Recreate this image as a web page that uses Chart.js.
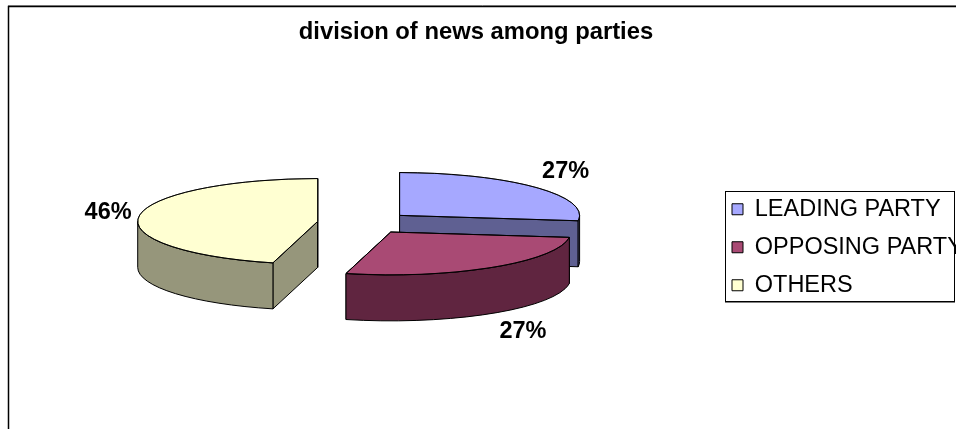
<!DOCTYPE html>
<html>
<head>
<meta charset="utf-8">
<title>division of news among parties</title>
<script src="https://cdn.jsdelivr.net/npm/chart.js@4/dist/chart.umd.js"></script>
<style>
  html, body { margin: 0; padding: 0; background: #fff; overflow: hidden; }
  #wrap { position: absolute; left: 0; top: 0; width: 956px; height: 429px; }
</style>
</head>
<body>
<div id="wrap"><canvas id="chart" width="956" height="429"></canvas></div>
<script>
const chartTitle = 'division of news among parties';
const categories = ['LEADING PARTY', 'OPPOSING PARTY', 'OTHERS'];
const shares = [27, 27, 46];
const topColors = ['#a6a8ff', '#a94a74', '#ffffd2'];
const sideColors = ['#5f6092', '#602540', '#96967b'];

const FONT = '"Liberation Sans", Arial, sans-serif';
const TILT = 0.238;      // vertical squash of the pie disc
const DEPTH = 46;        // height of the extruded wall
const EXPLODE = 47;      // how far each slice is pulled from the centre

// Screen position of an angle on a slice's rim, relative to the exploded centre.
function sliceGeometry(arc) {
  const mid = (arc.startAngle + arc.endAngle) / 2;
  const cx = arc.x + EXPLODE * Math.cos(mid);
  const cy = arc.y + EXPLODE * Math.sin(mid) * TILT;
  const rim = a => ({
    x: cx + arc.outerRadius * Math.cos(a),
    y: cy + arc.outerRadius * Math.sin(a) * TILT
  });
  return { mid, cx, cy, rim };
}

// Pie controller that draws each slice as a tilted, extruded, exploded wedge.
class ExplodedPie3D extends Chart.DoughnutController {
  draw() {
    const ctx = this.chart.ctx;
    this.getMeta().data.forEach((arc, i) => {
      const { cx, cy, rim } = sliceGeometry(arc);
      const r = arc.outerRadius;
      const a0 = arc.startAngle, a1 = arc.endAngle;
      ctx.save();
      ctx.lineWidth = 1;
      ctx.lineJoin = 'round';
      ctx.strokeStyle = '#000';
      ctx.fillStyle = sideColors[i];

      // Radial cut faces
      [a0, a1].forEach(a => {
        const p = rim(a);
        ctx.beginPath();
        ctx.moveTo(cx, cy);
        ctx.lineTo(p.x, p.y);
        ctx.lineTo(p.x, p.y + DEPTH);
        ctx.lineTo(cx, cy + DEPTH);
        ctx.closePath();
        ctx.fill();
        ctx.stroke();
      });

      // Outer wall: only the part of the rim facing the viewer
      for (let k = -1; k <= 1; k++) {
        const from = Math.max(a0, 2 * Math.PI * k);
        const to = Math.min(a1, Math.PI + 2 * Math.PI * k);
        if (to <= from) continue;
        ctx.beginPath();
        ctx.ellipse(cx, cy, r, r * TILT, 0, from, to);
        ctx.ellipse(cx, cy + DEPTH, r, r * TILT, 0, to, from, true);
        ctx.closePath();
        ctx.fill();
        ctx.stroke();
      }

      // Top face, squashed through the context transform
      ctx.save();
      ctx.translate(cx - arc.x, cy - arc.y * TILT);
      ctx.scale(1, TILT);
      arc.draw(ctx);
      ctx.restore();

      // Even-width outline of the top face
      ctx.beginPath();
      ctx.moveTo(cx, cy);
      ctx.ellipse(cx, cy, r, r * TILT, 0, a0, a1);
      ctx.closePath();
      ctx.stroke();
      ctx.restore();
    });
  }
}
ExplodedPie3D.id = 'explodedPie3D';
Chart.register(ExplodedPie3D);

const pieDecor = {
  id: 'pieDecor',
  // Place the title and the legend; the legend panel clips overlong entries.
  afterLayout(chart) {
    const tb = chart.titleBlock;
    tb.left = 0; tb.right = 952;
    const lg = chart.legend;
    lg.left = 717.5; lg.top = 183;
    lg.right = 956; lg.bottom = 340;
  },
  beforeDraw(chart) {
    const ctx = chart.ctx;
    ctx.save();
    // Outer chart frame, open at the bottom and right
    ctx.lineWidth = 1;
    ctx.strokeStyle = '#9a9a9a';
    ctx.beginPath();
    ctx.moveTo(8, 5.5);
    ctx.lineTo(960, 5.5);
    ctx.stroke();
    ctx.strokeStyle = '#000';
    ctx.lineWidth = 1.5;
    ctx.beginPath();
    ctx.moveTo(8.5, 440);
    ctx.lineTo(8.5, 6.5);
    ctx.lineTo(960, 6.5);
    ctx.stroke();
    // Legend panel
    ctx.lineWidth = 1;
    ctx.strokeRect(725.5, 191.5, 229, 110);
    ctx.strokeStyle = '#808080';
    ctx.beginPath();
    ctx.moveTo(725, 302.5);
    ctx.lineTo(955, 302.5);
    ctx.stroke();
    ctx.restore();
  },
  afterDatasetsDraw(chart) {
    const ctx = chart.ctx;
    const total = shares.reduce((s, v) => s + v, 0);
    ctx.save();
    ctx.font = 'bold 23.5px ' + FONT;
    ctx.fillStyle = '#000';
    ctx.textAlign = 'center';
    ctx.textBaseline = 'middle';
    chart.getDatasetMeta(0).data.forEach((arc, i) => {
      const { mid, rim } = sliceGeometry(arc);
      const p = rim(mid);
      const front = Math.sin(mid) > 0.5 ? DEPTH - 2 : 0;
      const x = p.x + 31 * Math.sign(Math.cos(mid));
      const y = p.y + front + 24 * Math.sin(mid);
      ctx.fillText(Math.round(shares[i] / total * 100) + '%', x, y);
    });
    ctx.restore();
  }
};

new Chart(document.getElementById('chart'), {
  type: 'explodedPie3D',
  data: {
    labels: categories,
    datasets: [{
      data: shares,
      backgroundColor: topColors,
      borderColor: '#000',
      borderWidth: 1,
      radius: 180
    }]
  },
  options: {
    responsive: false,
    animation: false,
    cutout: 0,
    layout: { padding: { left: 28, right: 0, top: 0, bottom: 40 } },
    plugins: {
      tooltip: { enabled: false },
      title: {
        display: true,
        text: chartTitle,
        color: '#000',
        font: { family: FONT, size: 23.8, weight: 'bold' },
        padding: { top: 18, bottom: 10 }
      },
      legend: {
        position: 'right',
        align: 'start',
        onClick: null,
        labels: {
          color: '#000',
          font: { family: FONT, size: 23.5 },
          boxWidth: 11,
          boxHeight: 11,
          padding: 14.5
        }
      }
    }
  },
  plugins: [pieDecor]
});
</script>
</body>
</html>
